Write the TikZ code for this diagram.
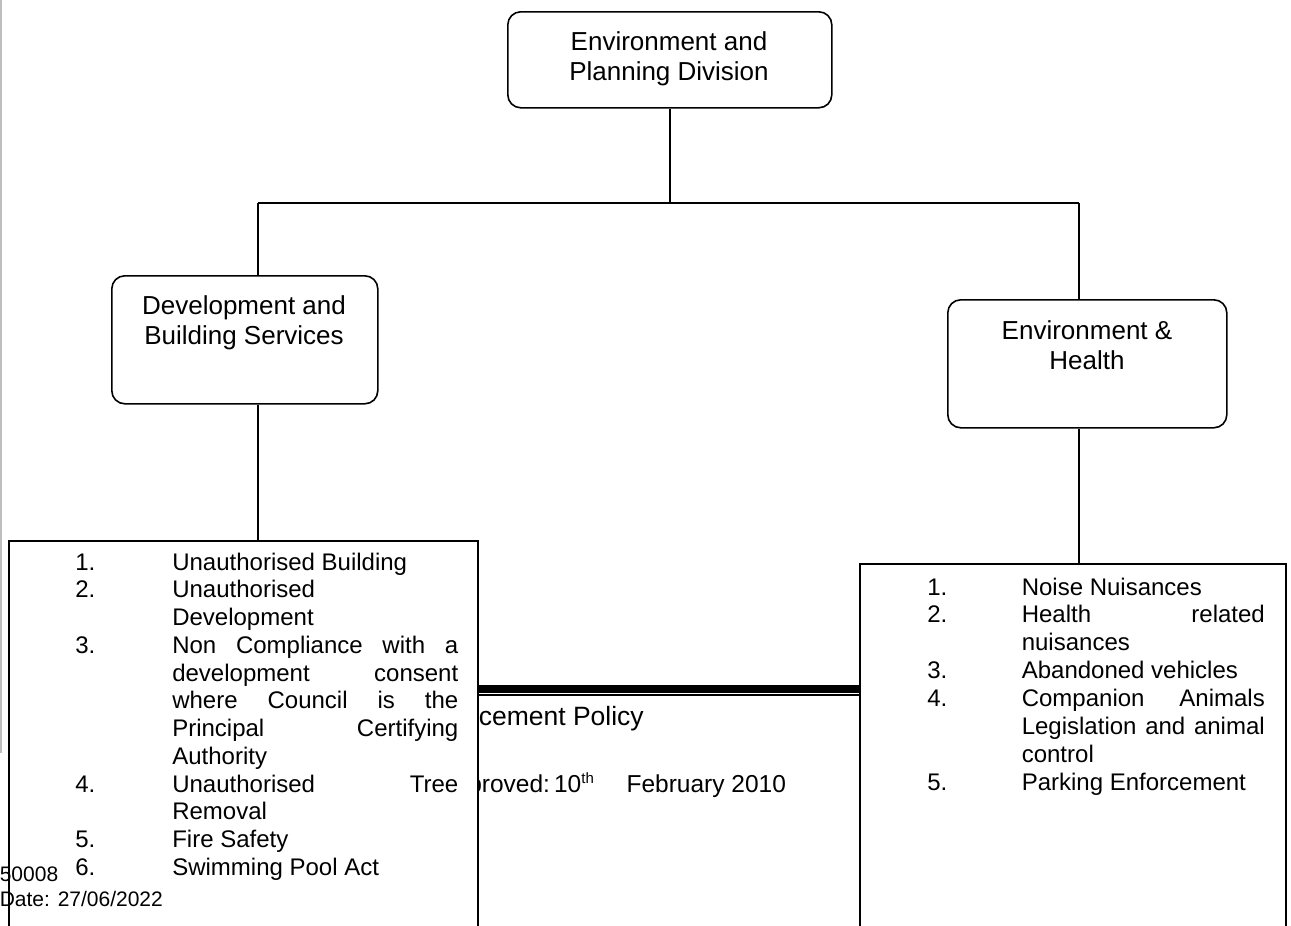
\documentclass[tikz,border=0pt]{standalone}
\usepackage{fontspec}
\setmainfont{Liberation Sans}
\definecolor{edgegray}{RGB}{190,190,190}
% justified line of a given width
\newcommand\jline[2]{\makebox[#1][s]{#2}}
\begin{document}
\begin{tikzpicture}[x=1pt,y=-1pt,
  line width=1.6pt,
  unitbox/.style={draw, rounded corners=13pt, fill=white, inner sep=0pt, anchor=north west},
  listbox/.style={draw, fill=white, inner sep=0pt, anchor=north west},
  titletext/.style={font=\fontsize{26}{30}\selectfont, anchor=base, inner sep=0pt},
  itemtext/.style={font=\fontsize{24}{28}\selectfont, anchor=base west, inner sep=0pt},
  notetext/.style={font=\fontsize{21}{24}\selectfont, anchor=base west, inner sep=0pt},
  foottext/.style={font=\fontsize{24.5}{28}\selectfont, anchor=base west, inner sep=0pt},
]
\useasboundingbox (0,0) rectangle (1291,926);
\clip (0,0) rectangle (1291,926);

% page edge
\draw[edgegray, line width=2pt] (1,0) -- (1,753);

% footer text partly covered by the list boxes
\node[font=\fontsize{26.5}{30}\selectfont, anchor=base west, inner sep=0pt] (policy) at (478,725) {cement Policy};
\node[foottext] (approved) at (467.5,792) {proved:};
\node[foottext] (appday) at (553.3,792) {10\raisebox{9pt}{\fontsize{15}{16}\selectfont th}};
\node[foottext] (appdate) at (625.8,792) {February 2010};

% footer rule (thick over thin)
\draw[line width=7.7pt] (477,688.8) -- (859,688.8);
\draw[line width=2pt] (477,695.3) -- (859,695.3);

% unit boxes
\node[unitbox, minimum width=324pt, minimum height=96pt] (div) at (507,11) {};
\node[unitbox, minimum width=266pt, minimum height=128pt] (dev) at (111,275) {};
\node[unitbox, minimum width=279pt, minimum height=128pt] (env) at (947,299) {};

\node[titletext] (divA) at (669,50) {Environment and};
\node[titletext] (divB) at (669,80) {Planning Division};
\node[titletext] (devA) at (244,314) {Development and};
\node[titletext] (devB) at (244,344) {Building Services};
\node[titletext] (envA) at (1087,339) {Environment \&};
\node[titletext] (envB) at (1087,369) {Health};

% list boxes
\node[listbox, minimum width=469pt, minimum height=420pt] (devlist) at (8,540) {};
\node[listbox, minimum width=426pt, minimum height=420pt] (envlist) at (859,563) {};

% connectors
\coordinate (jl) at (258,203);
\coordinate (jr) at (1079,203);
\draw (div.south) -- (div.south |- jl);
\draw (jl) -- (jr);
\draw (jl) -- (jl |- dev.north);
\draw (jr) -- (jr |- env.north);
\draw (dev.south -| jl) -- (devlist.north -| jl);
\draw (env.south -| jr) -- (envlist.north -| jr);

% development and building services items
\node[itemtext] (dn1) at (74.5,570) {1.};
\node[itemtext] (dt1) at (171.5,570) {Unauthorised Building};
\node[itemtext] (dn2) at (74.5,597.75) {2.};
\node[itemtext] (dt2) at (171.5,597.75) {Unauthorised};
\node[itemtext] (dt2b) at (171.5,625.5) {Development};
\node[itemtext] (dn3) at (74.5,653.25) {3.};
\node[itemtext] (dt3) at (171.5,653.25) {\jline{286pt}{Non Compliance with a}};
\node[itemtext] (dt3b) at (171.5,681) {\jline{286pt}{development consent}};
\node[itemtext] (dt3c) at (171.5,708.75) {\jline{286pt}{where Council is the}};
\node[itemtext] (dt3d) at (171.5,736.5) {\jline{286pt}{Principal Certifying}};
\node[itemtext] (dt3e) at (171.5,764.25) {Authority};
\node[itemtext] (dn4) at (74.5,792) {4.};
\node[itemtext] (dt4) at (171.5,792) {\jline{286pt}{Unauthorised Tree}};
\node[itemtext] (dt4b) at (171.5,819.75) {Removal};
\node[itemtext] (dn5) at (74.5,847.5) {5.};
\node[itemtext] (dt5) at (171.5,847.5) {Fire Safety};
\node[itemtext] (dn6) at (74.5,875.25) {6.};
\node[itemtext] (dt6) at (171.5,875.25) {Swimming Pool Act};

% environment and health items
\node[itemtext] (en1) at (926.5,595) {1.};
\node[itemtext] (et1) at (1021,595) {Noise Nuisances};
\node[itemtext] (en2) at (926.5,622.9) {2.};
\node[itemtext] (et2) at (1021,622.9) {\jline{243pt}{Health related}};
\node[itemtext] (et2b) at (1021,650.7) {nuisances};
\node[itemtext] (en3) at (926.5,678.6) {3.};
\node[itemtext] (et3) at (1021,678.6) {Abandoned vehicles};
\node[itemtext] (en4) at (926.5,706.4) {4.};
\node[itemtext] (et4) at (1021,706.4) {\jline{243pt}{Companion Animals}};
\node[itemtext] (et4b) at (1021,734.3) {\jline{243pt}{Legislation and animal}};
\node[itemtext] (et4c) at (1021,762.1) {control};
\node[itemtext] (en5) at (926.5,790) {5.};
\node[itemtext] (et5) at (1021,790) {Parking Enforcement};

% document reference and date
\node[notetext] (docref) at (-1,881.5) {50008};
\node[notetext] (docdate) at (-1,906.5) {Date: 27/06/2022};
\end{tikzpicture}
\end{document}
